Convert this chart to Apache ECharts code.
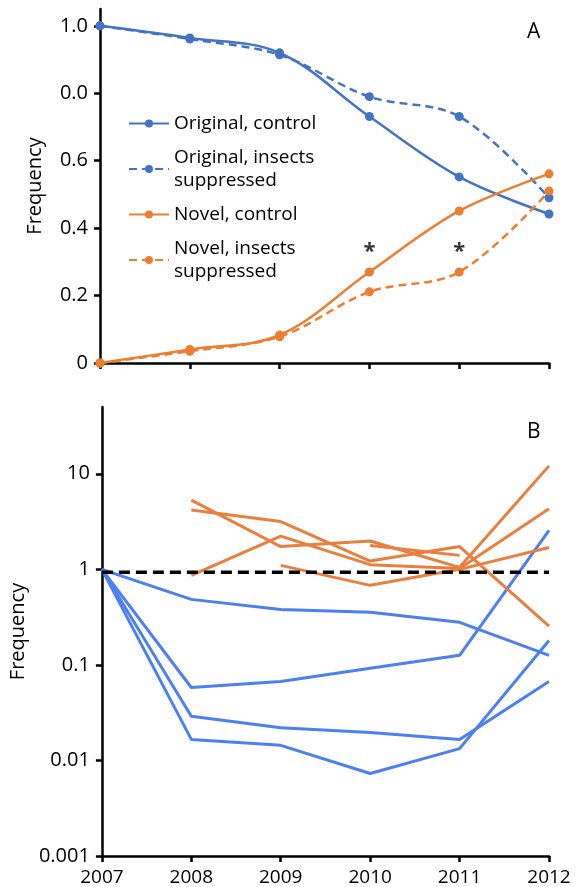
<!DOCTYPE html>
<html>
<head>
<meta charset="utf-8">
<script src="https://cdn.jsdelivr.net/npm/echarts@6/dist/echarts.min.js"></script>
<style>
  html, body { margin: 0; padding: 0; background: #fff; }
  #chart { width: 577px; height: 887px; }
</style>
</head>
<body>
<div id="chart"></div>
<script>
const years = [2007, 2008, 2009, 2010, 2011, 2012];

// panel A - frequency of genotypes
const origControl = [1.0, 0.964, 0.92, 0.731, 0.552, 0.442];
const origSuppressed = [1.0, 0.961, 0.914, 0.79, 0.731, 0.49];
const novelControl = [0, 0.04, 0.083, 0.27, 0.451, 0.561];
const novelSuppressed = [0, 0.035, 0.078, 0.211, 0.27, 0.51];
const starYears = [2010, 2011];
const starLevel = [0.33, 0.33];
const tickValuesA = [0, 0.2, 0.4, 0.6, 0.8, 1.0];
const tickLabelsA = ['0', '0.2', '0.4', '0.6', '0.0', '1.0'];

// panel B - individual genotypes (log scale)
const blueB = [
  [1, 0.485, 0.381, 0.355, 0.279, 0.126],
  [1, 0.058, 0.067, 0.092, 0.126, 2.56],
  [1, 0.029, 0.022, 0.0196, 0.0166, 0.067],
  [1, 0.0166, 0.0144, 0.0073, 0.0133, 0.18]
];
const orangeB = [
  [null, 5.3, 1.73, 1.98, 1.05, 12.1],
  [null, 4.17, 3.16, 1.22, 1.73, 0.255],
  [null, 0.865, 2.23, 1.12, 1.02, 4.3],
  [null, null, 1.10, 0.68, 1.0, 1.69],
  [null, null, null, 1.78, 1.40, null]
];
const refYears = [2007, 2012];
const refLine = [0.93, 0.93];
const tickValuesB = [0.001, 0.01, 0.1, 1, 10];
const tickLabelsB = ['0.001', '0.01', '0.1', '1', '10'];

const BLUE = '#4472C4';
const ORANGE = '#ED7D31';
const BLUE_B = '#4C7FF2';
const ORANGE_B = '#E97F3F';
const FONT = 'Open Sans';

const pairs = (xs, ys) => xs.map((x, i) => [x, ys[i]]).filter(p => p[1] !== null);
const pick = (vals, labels) => v => {
  const i = vals.findIndex(t => Math.abs(t - v) < 1e-9);
  return i >= 0 ? labels[i] : '';
};

const axisLine = { show: true, onZero: false, lineStyle: { color: '#000', width: 2.5 } };
const axisTick = { show: true, inside: false, length: 6, lineStyle: { color: '#000', width: 2.5 } };
const labelStyle = { color: '#000', fontSize: 20, fontFamily: FONT };

const lineA = (name, data, color, dashed) => ({
  name,
  type: 'line',
  xAxisIndex: 0,
  yAxisIndex: 0,
  data: pairs(years, data),
  smooth: 0.35,
  symbol: 'circle',
  symbolSize: 9,
  itemStyle: { color },
  lineStyle: { color, width: 2.5, type: dashed ? [8, 5] : 'solid' },
  z: 3
});

const seriesB = [];
blueB.forEach((row, i) => seriesB.push({
  name: 'blue' + i, type: 'line', xAxisIndex: 1, yAxisIndex: 1,
  data: pairs(years, row), showSymbol: false,
  lineStyle: { color: BLUE_B, width: 3 }, itemStyle: { color: BLUE_B }
}));
orangeB.forEach((row, i) => seriesB.push({
  name: 'orange' + i, type: 'line', xAxisIndex: 1, yAxisIndex: 1,
  data: pairs(years, row), showSymbol: false,
  lineStyle: { color: ORANGE_B, width: 3 }, itemStyle: { color: ORANGE_B }
}));
seriesB.push({
  name: 'ref', type: 'line', xAxisIndex: 1, yAxisIndex: 1,
  data: pairs(refYears, refLine), showSymbol: false,
  lineStyle: { color: '#000', width: 3.5, type: [11, 6] }, z: 5
});

const chart = echarts.init(document.getElementById('chart'));
chart.setOption({
  animation: false,
  textStyle: { fontFamily: FONT },
  title: [
    { text: 'A', left: 522, top: 17, textStyle: { fontSize: 21, fontWeight: 'normal', color: '#000', fontFamily: FONT } },
    { text: 'B', left: 522, top: 417, textStyle: { fontSize: 21, fontWeight: 'normal', color: '#000', fontFamily: FONT } }
  ],
  legend: {
    data: ['Original, control', 'Original, insects\nsuppressed', 'Novel, control', 'Novel, insects\nsuppressed'],
    orient: 'vertical',
    left: 123,
    top: 107,
    itemWidth: 40,
    itemHeight: 10,
    itemGap: 11,
    textStyle: { fontSize: 19, lineHeight: 23, color: '#000', fontFamily: FONT }
  },
  grid: [
    { left: 100, right: 28, top: 9, height: 354 },
    { left: 100, right: 28, top: 407, bottom: 31 }
  ],
  xAxis: [
    {
      gridIndex: 0, type: 'value', min: 2007, max: 2012, interval: 1,
      axisLine, axisTick, axisLabel: { show: false }, splitLine: { show: false }
    },
    {
      gridIndex: 1, type: 'value', min: 2007, max: 2012, interval: 1,
      axisLine, axisTick, splitLine: { show: false },
      axisLabel: Object.assign({}, labelStyle, { margin: 12, fontSize: 19, formatter: v => String(v) })
    }
  ],
  yAxis: [
    {
      gridIndex: 0, type: 'value', min: 0, max: 1.05, interval: 0.2,
      name: 'Frequency', nameLocation: 'middle', nameGap: 55,
      nameTextStyle: { fontSize: 20, color: '#000', fontFamily: FONT },
      axisLine,
      axisTick: Object.assign({ customValues: tickValuesA }, axisTick),
      splitLine: { show: false },
      axisLabel: Object.assign({ margin: 12, customValues: tickValuesA, formatter: pick(tickValuesA, tickLabelsA) }, labelStyle)
    },
    {
      gridIndex: 1, type: 'log', logBase: 10, min: 0.001, max: 50,
      name: 'Frequency', nameLocation: 'middle', nameGap: 69,
      nameTextStyle: { fontSize: 20, color: '#000', fontFamily: FONT },
      axisLine,
      axisTick: Object.assign({ customValues: tickValuesB }, axisTick),
      minorTick: { show: false },
      splitLine: { show: false },
      axisLabel: Object.assign({ margin: 12, customValues: tickValuesB, formatter: pick(tickValuesB, tickLabelsB) }, labelStyle)
    }
  ],
  series: [
    lineA('Original, control', origControl, BLUE, false),
    lineA('Original, insects\nsuppressed', origSuppressed, BLUE, true),
    lineA('Novel, control', novelControl, ORANGE, false),
    lineA('Novel, insects\nsuppressed', novelSuppressed, ORANGE, true),
    {
      name: 'stars', type: 'scatter', xAxisIndex: 0, yAxisIndex: 0,
      data: pairs(starYears, starLevel), symbolSize: 1,
      itemStyle: { color: 'rgba(0,0,0,0)' },
      label: { show: true, position: 'inside', formatter: '*', fontSize: 22, fontWeight: 'bold', color: '#000', fontFamily: FONT }
    }
  ].concat(seriesB)
});
</script>
</body>
</html>
